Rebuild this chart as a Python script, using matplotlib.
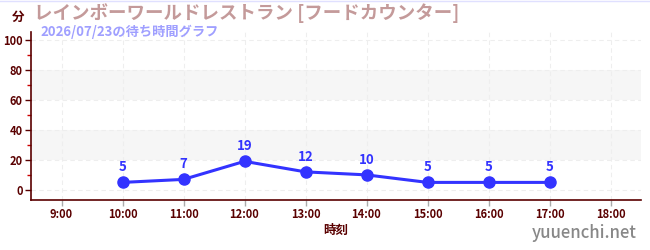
import matplotlib
matplotlib.use("Agg")
import matplotlib.pyplot as plt
from matplotlib.ticker import MultipleLocator

plt.rcParams['font.family'] = ['Noto Sans CJK JP', 'DejaVu Sans']

# data
hours = [10, 11, 12, 13, 14, 15, 16, 17]
waits = [5, 7, 19, 12, 10, 5, 5, 5]
tick_hours = list(range(9, 19))
tick_labels = ["%d:00" % h for h in tick_hours]
title = "レインボーワールドレストラン [フードカウンター]"
subtitle = "2026/07/23の待ち時間グラフ"

axis_col = "#5a0000"
fig = plt.figure(figsize=(6.5, 2.5), dpi=100)
ax = fig.add_axes([31/650, 50/250, 610/650, 168/250])

ax.set_xlim(8.5, 18.5)
ax.set_ylim(-6.7, 105)

# alternating bands
for lo, hi in [(20, 40), (60, 80)]:
    ax.axhspan(lo, hi, color="#f6f6f6", zorder=0, lw=0)

ax.yaxis.set_major_locator(MultipleLocator(20))
ax.yaxis.set_minor_locator(MultipleLocator(10))
ax.set_xticks(tick_hours)
ax.set_xticklabels(tick_labels)
ax.grid(True, which="major", color="#eeeeee", ls=(0, (4, 3)), lw=0.8, zorder=0)

for s in ["top", "right"]:
    ax.spines[s].set_visible(False)
for s in ["left", "bottom"]:
    ax.spines[s].set_color(axis_col)
    ax.spines[s].set_linewidth(1.2)

ax.tick_params(axis="both", which="major", colors=axis_col, labelsize=8, length=4, width=1)
ax.tick_params(axis="y", which="minor", colors="#cc0000", length=3, width=1)
ax.tick_params(axis="x", which="major", color="#aaaaaa", length=4, pad=2)
ax.tick_params(axis="y", pad=2)
for lbl in ax.get_xticklabels() + ax.get_yticklabels():
    lbl.set_fontweight("bold")
    lbl.set_color(axis_col)

ax.plot(hours, waits, color="#3333ff", lw=2.2, marker="o", ms=8, zorder=3, clip_on=False)
for h, w in zip(hours, waits):
    ax.annotate(str(w), (h, w), xytext=(0, 6), textcoords="offset points",
                ha="center", va="bottom", color="#3333ff", fontsize=9.5, fontweight="bold")

ax.set_xlabel("時刻", color=axis_col, fontsize=9, fontweight="bold", labelpad=2)

fig.text(12/650, 1 - 17/250, "分", color=axis_col, fontsize=9, fontweight="bold", va="center")
fig.text(34/650, 1 - 13/250, title, color="#c49a9a", fontsize=13.3, fontweight="bold", va="center")
fig.text(40/650, 1 - 32/250, subtitle, color="#9f9fff", fontsize=9.5, fontweight="bold", va="center")
fig.text(637/650, 1 - 233/250, "yuuenchi.net", color="#888888", fontsize=12, fontweight="medium",
         ha="right", va="center")
fig.add_artist(plt.Line2D([0, 1], [0.998, 0.998], color="#e0e0ff", lw=1))

fig.savefig("out.png", dpi=100)
